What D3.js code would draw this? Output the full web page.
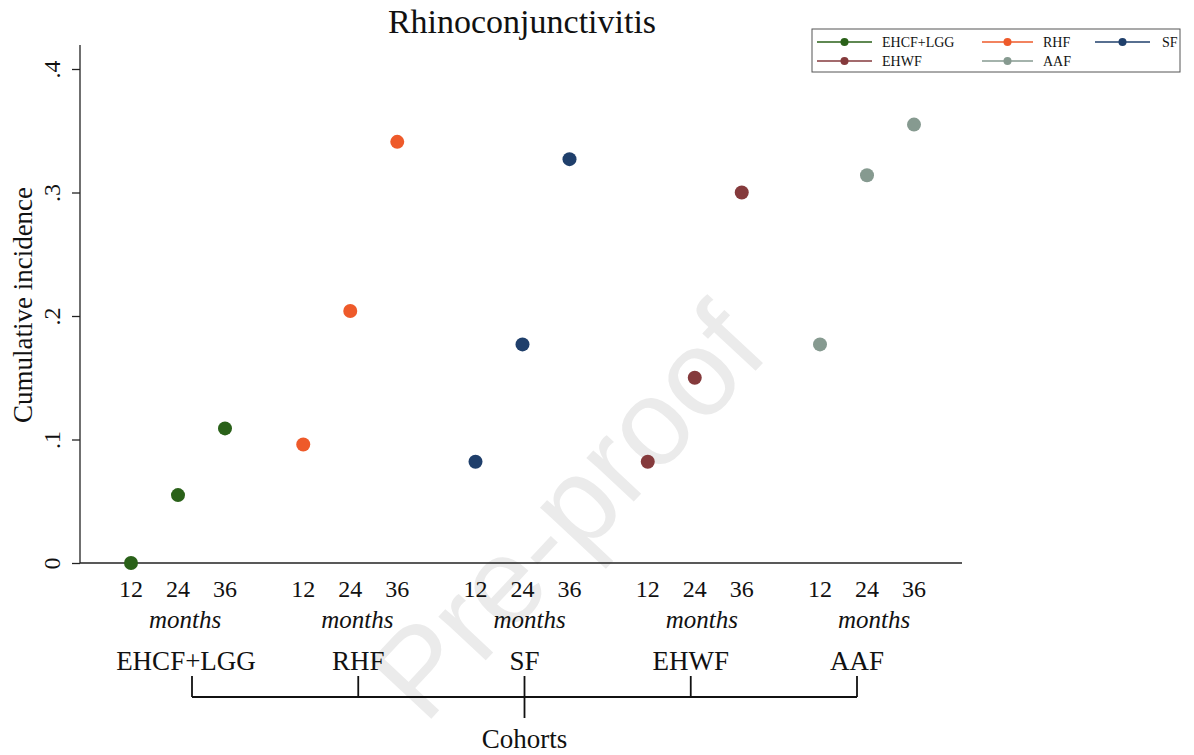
<!DOCTYPE html>
<html>
<head>
<meta charset="utf-8">
<script src="https://cdn.jsdelivr.net/npm/d3@7"></script>
<style>
  body { margin: 0; background: #fff; }
  text { font-family: "Liberation Serif", "Times New Roman", serif; fill: #111; }
</style>
</head>
<body>
<script>
// data
let cohorts = ["EHCF+LGG", "RHF", "SF", "EHWF", "AAF"];
let months = [12, 24, 36];
let colors = ["#2a6119", "#ee5a2a", "#1f3f6b", "#853a3c", "#869a90"];
let incEHCF = [0.000, 0.055, 0.109];
let incRHF  = [0.096, 0.204, 0.341];
let incSF   = [0.082, 0.177, 0.327];
let incEHWF = [0.082, 0.150, 0.300];
let incAAF  = [0.177, 0.314, 0.355];
let yTicks = [0, 0.1, 0.2, 0.3, 0.4];
let yTickLabels = ["0", ".1", ".2", ".3", ".4"];

let series = [incEHCF, incRHF, incSF, incEHWF, incAAF];

let width = 1194,
    height = 755;

let svg = d3.select("body").append("svg")
    .attr("width", width)
    .attr("height", height);

// watermark
svg.append("text")
    .attr("transform", "translate(598,540) rotate(-47)")
    .attr("text-anchor", "middle")
    .style("font-family", "'Liberation Sans', Arial, sans-serif")
    .style("font-size", "122px")
    .style("fill", "#ebebeb")
    .text("Pre-proof");

let x0 = 80, x1 = 962, yBase = 563;

let y = d3.scaleLinear()
    .domain([0, 0.4])
    .range([yBase, 69]);

// centre of each cohort group (24 months)
let xc = d3.scalePoint()
    .domain(cohorts)
    .range([178, 867]);

// month offset inside a group
let xm = d3.scalePoint()
    .domain(months)
    .range([-47, 47]);

// cohort bracket positions
let xb = d3.scalePoint()
    .domain(cohorts)
    .range([192, 857]);

// title
svg.append("text")
    .attr("x", 522).attr("y", 33)
    .attr("text-anchor", "middle")
    .style("font-size", "34px")
    .text("Rhinoconjunctivitis");

// y axis
let yAxis = d3.axisLeft(y)
    .tickValues(yTicks)
    .tickFormat((d, i) => yTickLabels[i])
    .tickSize(8)
    .tickSizeOuter(0);

let ga = svg.append("g")
    .attr("transform", "translate(" + x0 + ",0)")
    .call(yAxis);
ga.select(".domain").attr("d", "M0," + 45 + "V" + yBase).attr("stroke", "#222").attr("stroke-width", 1.3);
ga.selectAll(".tick line").attr("stroke", "#222").attr("stroke-width", 1.3);
ga.selectAll(".tick text")
    .attr("x", 0).attr("y", 0).attr("dy", null)
    .attr("transform", "translate(-20,0) rotate(-90)")
    .attr("text-anchor", "middle")
    .style("font-family", "'Liberation Serif', serif")
    .style("font-size", "24px")
    .style("fill", "#111");

svg.append("text")
    .attr("transform", "translate(32,305) rotate(-90)")
    .attr("text-anchor", "middle")
    .style("font-size", "27px")
    .text("Cumulative incidence");

// x axis line
svg.append("line")
    .attr("x1", x0).attr("x2", x1)
    .attr("y1", yBase).attr("y2", yBase)
    .attr("stroke", "#222").attr("stroke-width", 1.3);

// month tick labels
cohorts.forEach(function(c) {
  months.forEach(function(m) {
    svg.append("text")
      .attr("x", xc(c) + xm(m)).attr("y", 597)
      .attr("text-anchor", "middle")
      .style("font-size", "24px")
      .text(m);
  });
  svg.append("text")
    .attr("x", xc(c) + 7).attr("y", 628)
    .attr("text-anchor", "middle")
    .style("font-size", "25px")
    .style("font-style", "italic")
    .text("months");
  svg.append("text")
    .attr("x", xb(c) - (c === cohorts[0] ? 6 : 0)).attr("y", 670)
    .attr("text-anchor", "middle")
    .style("font-size", "27px")
    .text(c);
});

// bracket
let br = svg.append("g").attr("stroke", "#111").attr("stroke-width", 1.8);
br.append("line")
    .attr("x1", xb(cohorts[0])).attr("x2", xb(cohorts[cohorts.length - 1]))
    .attr("y1", 697).attr("y2", 697);
cohorts.forEach(function(c) {
  br.append("line")
    .attr("x1", xb(c)).attr("x2", xb(c))
    .attr("y1", 676).attr("y2", 697);
});
br.append("line")
    .attr("x1", xb(cohorts[2])).attr("x2", xb(cohorts[2]))
    .attr("y1", 697).attr("y2", 718);

svg.append("text")
    .attr("x", xb(cohorts[2])).attr("y", 748)
    .attr("text-anchor", "middle")
    .style("font-size", "27px")
    .text("Cohorts");

// points
series.forEach(function(vals, i) {
  svg.selectAll(".pt" + i)
    .data(vals)
    .enter().append("circle")
    .attr("class", "pt" + i)
    .attr("cx", (d, j) => xc(cohorts[i]) + xm(months[j]))
    .attr("cy", d => y(d))
    .attr("r", 7)
    .attr("fill", colors[i]);
});

// legend
let leg = svg.append("g");
leg.append("rect")
    .attr("x", 812).attr("y", 29)
    .attr("width", 368).attr("height", 43)
    .attr("fill", "#fff")
    .attr("stroke", "#555").attr("stroke-width", 1);

let legX = [817, 982, 1095];
let legW = [55, 51, 55];
cohorts.forEach(function(c, i) {
  let col = i < 3 ? i : i - 3;
  let row = i < 3 ? 0 : 1;
  let lx = legX[col], ly = 42 + row * 19, lw = legW[col];
  leg.append("line")
    .attr("x1", lx).attr("x2", lx + lw)
    .attr("y1", ly).attr("y2", ly)
    .attr("stroke", colors[i]).attr("stroke-width", 1.5);
  leg.append("circle")
    .attr("cx", lx + lw / 2).attr("cy", ly)
    .attr("r", 4)
    .attr("fill", colors[i]);
  leg.append("text")
    .attr("x", lx + lw + (col === 2 ? 12 : 10)).attr("y", ly + 5)
    .style("font-size", "14px")
    .text(c);
});
</script>
</body>
</html>
